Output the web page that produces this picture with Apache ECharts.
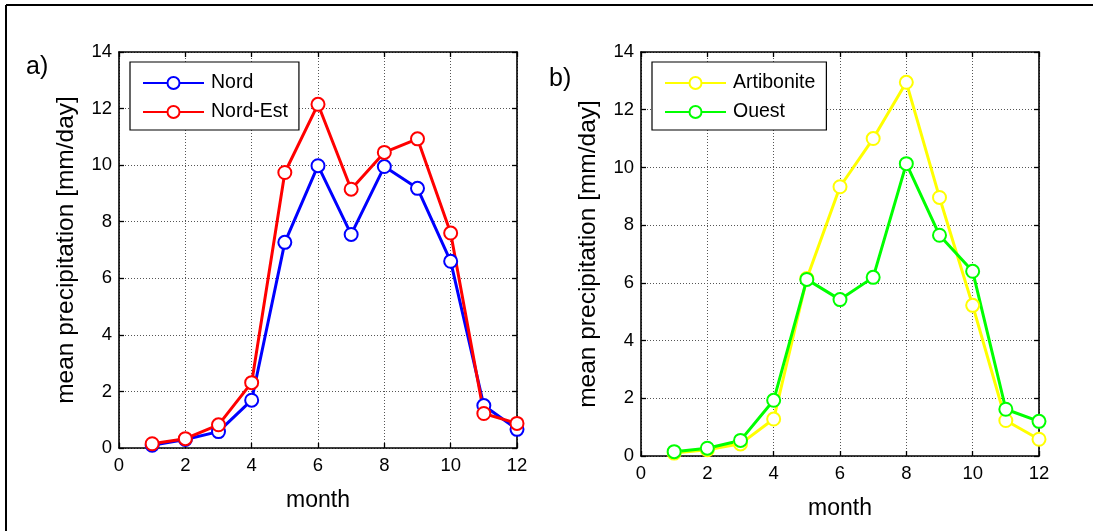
<!DOCTYPE html>
<html>
<head>
<meta charset="utf-8">
<script src="https://cdn.jsdelivr.net/npm/echarts@6/dist/echarts.min.js"></script>
<style>
html,body{margin:0;padding:0;background:#fff;}
#c{width:1093px;height:531px;}
</style>
</head>
<body>
<div id="c"></div>
<script>
var months = [1,2,3,4,5,6,7,8,9,10,11,12];
var nord = [0.1, 0.3, 0.58, 1.69, 7.27, 9.98, 7.55, 9.95, 9.18, 6.6, 1.5, 0.66];
var nordEst = [0.15, 0.33, 0.82, 2.31, 9.74, 12.15, 9.15, 10.45, 10.93, 7.6, 1.22, 0.87];
var artibonite = [0.1, 0.22, 0.42, 1.28, 6.15, 9.33, 11.0, 12.95, 8.96, 5.22, 1.23, 0.58];
var ouest = [0.15, 0.27, 0.54, 1.93, 6.12, 5.42, 6.19, 10.13, 7.65, 6.4, 1.62, 1.2];
var xTicks = [0,2,4,6,8,10,12];
var yTicks = [0,2,4,6,8,10,12,14];

var FONT = 'Liberation Sans';
function pairs(v){ return months.map(function(m,i){ return [m, v[i]]; }); }

var chart = echarts.init(document.getElementById('c'), null, {renderer:'canvas'});

var grids = [
  {left:119, top:52, width:398, height:396},
  {left:641, top:52, width:398, height:404}
];

var gridLine = {show:true, lineStyle:{color:'#555', type:[1,2], width:1}};
function xAx(g, pos, main){
  return {
    type:'value', gridIndex:g, position:pos, min:xTicks[0], max:xTicks[xTicks.length-1], interval:2,
    axisLine:{show:true, onZero:false, lineStyle:{color:'#000', width:1.6}},
    axisTick:{show:true, inside:true, length:5, lineStyle:{color:'#000', width:1.3}},
    axisLabel:{show:main, color:'#000', fontFamily:FONT, fontSize:18.5, margin:8},
    splitLine: main ? gridLine : {show:false},
    name: main ? 'month' : '', nameLocation:'middle', nameGap:41,
    nameTextStyle:{color:'#000', fontFamily:FONT, fontSize:23}
  };
}
function yAx(g, pos, main){
  return {
    type:'value', gridIndex:g, position:pos, min:yTicks[0], max:yTicks[yTicks.length-1], interval:2,
    axisLine:{show:true, onZero:false, lineStyle:{color:'#000', width:1.6}},
    axisTick:{show:true, inside:true, length:5, lineStyle:{color:'#000', width:1.3}},
    axisLabel:{show:main, color:'#000', fontFamily:FONT, fontSize:18.5, margin:7},
    splitLine: main ? gridLine : {show:false},
    name: main ? 'mean precipitation [mm/day]' : '', nameLocation:'middle', nameGap:40,
    nameTextStyle:{color:'#000', fontFamily:FONT, fontSize:24.5}
  };
}

function ser(name, data, color, xi, yi){
  return {
    name:name, type:'line', xAxisIndex:xi, yAxisIndex:yi, data:pairs(data),
    symbol:'emptyCircle', symbolSize:13, showSymbol:true,
    lineStyle:{color:color, width:3},
    itemStyle:{color:color, borderColor:color, borderWidth:2.8},
    emphasis:{disabled:true}, animation:false, z:3
  };
}

function legend(names, left){
  return {
    data:names, orient:'vertical', left:left, top:62,
    backgroundColor:'#fff', borderColor:'#000', borderWidth:1.2, borderRadius:0,
    padding:[11,11,8,12], itemWidth:61, itemHeight:15, itemGap:9,
    textStyle:{color:'#000', fontFamily:FONT, fontSize:19.5, padding:[0,0,0,2]},
    selectedMode:false
  };
}

chart.setOption({
  animation:false,
  backgroundColor:'#fff',
  grid:grids,
  xAxis:[xAx(0,'bottom',true), xAx(0,'top',false), xAx(1,'bottom',true), xAx(1,'top',false)],
  yAxis:[yAx(0,'left',true), yAx(0,'right',false), yAx(1,'left',true), yAx(1,'right',false)],
  legend:[legend(['Nord','Nord-Est'],130), legend(['Artibonite','Ouest'],652)],
  series:[
    ser('Nord', nord, '#0000ff', 0, 0),
    ser('Nord-Est', nordEst, '#ff0000', 0, 0),
    ser('Artibonite', artibonite, '#ffff00', 2, 2),
    ser('Ouest', ouest, '#00ff00', 2, 2)
  ],
  graphic:[
    {type:'line', shape:{x1:6, y1:5, x2:1093, y2:5}, style:{stroke:'#000', lineWidth:2}},
    {type:'line', shape:{x1:6, y1:5, x2:6, y2:531}, style:{stroke:'#000', lineWidth:2}},
    {type:'text', left:26, top:55, style:{text:'a)', fill:'#000', font:'25px "Liberation Sans"'}},
    {type:'text', left:549, top:67, style:{text:'b)', fill:'#000', font:'25px "Liberation Sans"'}}
  ]
});
</script>
</body>
</html>
